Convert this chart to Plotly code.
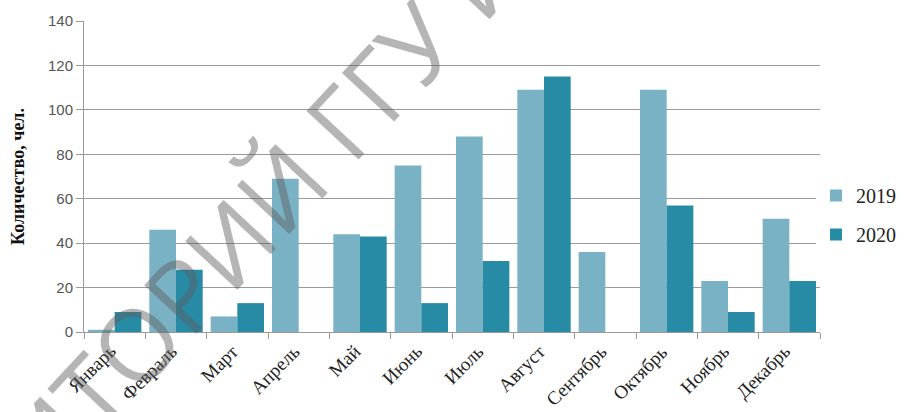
import plotly.graph_objects as go

months = ["Январь", "Февраль", "Март", "Апрель", "Май", "Июнь", "Июль",
          "Август", "Сентябрь", "Октябрь", "Ноябрь", "Декабрь"]
values_2019 = [1, 46, 7, 69, 44, 75, 88, 109, 36, 109, 23, 51]
values_2020 = [9, 28, 13, 0, 43, 13, 32, 115, 0, 57, 9, 23]
y_ticks = [0, 20, 40, 60, 80, 100, 120, 140]

fig = go.Figure()
fig.add_trace(go.Bar(name="2019", x=months, y=values_2019, legendgroup="a",
                     marker=dict(color="#7AB2C5", line=dict(width=0))))
fig.add_trace(go.Bar(name="2020", x=months, y=values_2020, legendgroup="b",
                     marker=dict(color="#288BA6", line=dict(width=0))))

fig.update_layout(
    width=916, height=412,
    margin=dict(l=84, r=96, t=21, b=80, autoexpand=False),
    paper_bgcolor="white", plot_bgcolor="white",
    barmode="group", bargap=0.13, bargroupgap=0,
    showlegend=True,
    legend=dict(xref="container", yref="container",
                x=816 / 916, y=1 - 215 / 412, xanchor="left", yanchor="middle",
                traceorder="grouped", tracegroupgap=10,
                font=dict(family="Liberation Serif", size=20, color="#222"),
                itemwidth=30),
    xaxis=dict(
        type="category", showticklabels=False, range=[-0.5, len(months) - 0.5],
        showline=True, linecolor="#9a9a9a", linewidth=1,
        ticks="outside", tickson="boundaries", ticklen=6, tickcolor="#9a9a9a",
        showgrid=False, automargin=False,
    ),
    yaxis=dict(
        range=[0, 140], tickvals=y_ticks,
        tickfont=dict(family="Liberation Sans", size=15, color="#555"),
        showline=True, linecolor="#9a9a9a", linewidth=1,
        ticks="outside", ticklen=7, tickcolor="#9a9a9a",
        showgrid=True, gridcolor="#9a9a9a", gridwidth=1,
        zeroline=False, automargin=False,
        title=dict(text="<b>Количество, чел.</b>", standoff=18,
                   font=dict(family="Liberation Serif", size=18, color="#111")),
    ),
)

for m in months:
    fig.add_annotation(
        text=m, x=m, xref="x", y=0, yref="paper",
        xanchor="right", yanchor="top", textangle=-45, showarrow=False,
        xshift=8, yshift=-6,
        font=dict(family="Liberation Serif", size=19, color="#222"),
    )

fig.add_annotation(
    text="ЗИТОРИЙ ГГУ ИМЕ", xref="paper", yref="paper",
    x=(292 - 84) / 736, y=(332 - 174) / 311,
    xanchor="center", yanchor="middle", showarrow=False, textangle=-47,
    font=dict(family="Open Sans", size=100, color="rgba(90,90,90,0.45)"),
)

fig.write_html("out.html")
